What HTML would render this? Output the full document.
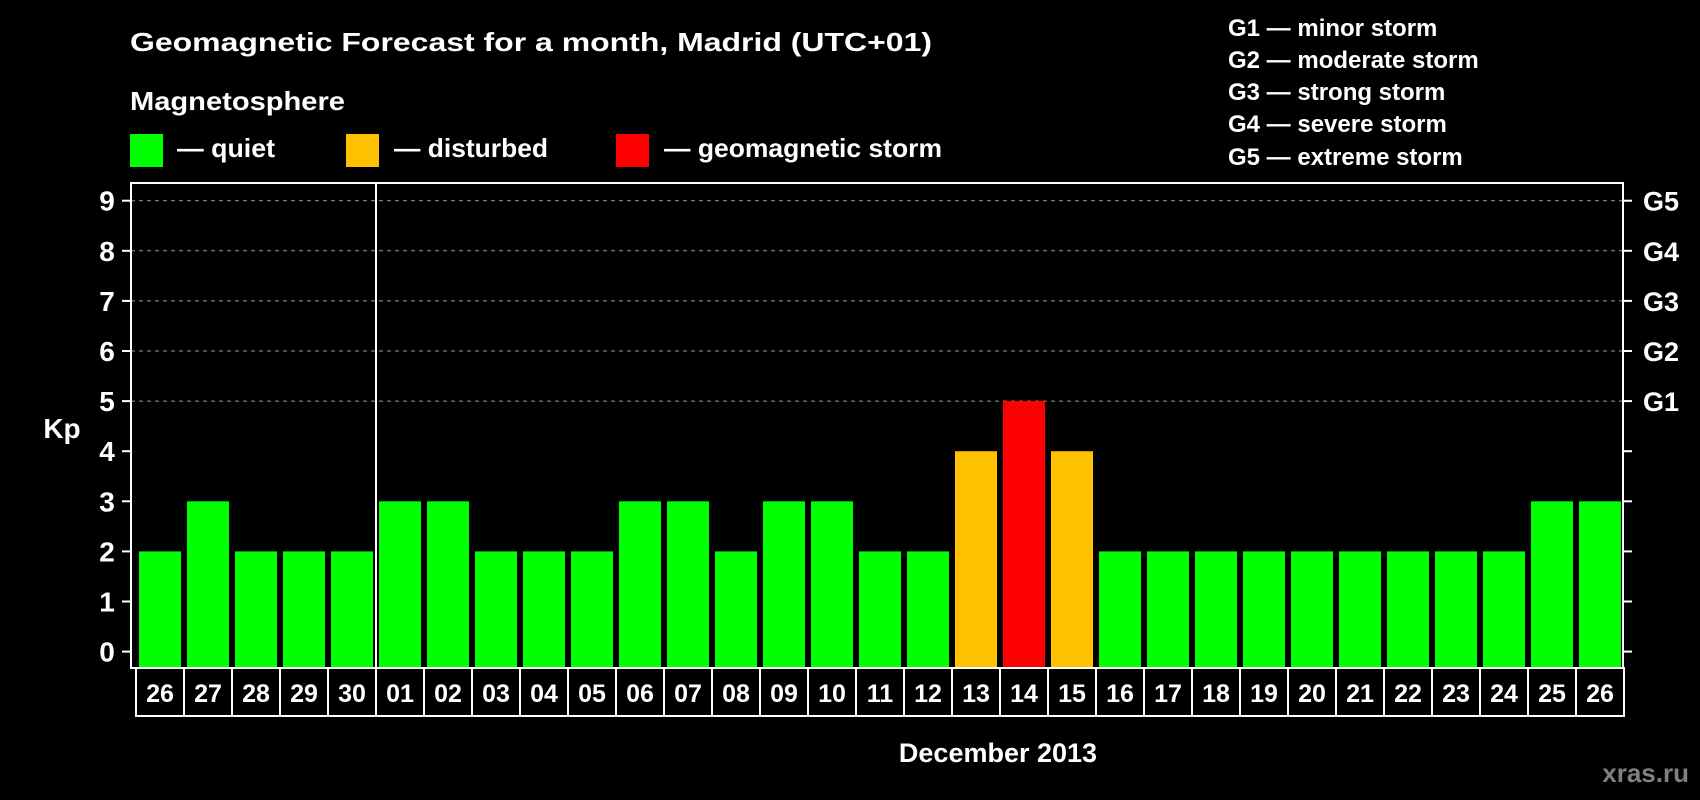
<!DOCTYPE html>
<html><head><meta charset="utf-8"><style>
html,body{margin:0;padding:0;background:#000;}
svg{display:block;font-family:"Liberation Sans",Arial,sans-serif;font-weight:bold;}
</style></head><body>
<svg id="chart" width="1700" height="800" viewBox="0 0 1700 800">
<rect x="0" y="0" width="1700" height="800" fill="#000"/>
<text x="130" y="51" font-size="26" fill="#fff" textLength="802" lengthAdjust="spacingAndGlyphs">Geomagnetic Forecast for a month, Madrid (UTC+01)</text>
<text x="130" y="110" font-size="26" fill="#fff" textLength="215" lengthAdjust="spacingAndGlyphs">Magnetosphere</text>
<rect x="130" y="134" width="33" height="33" fill="#00ff00"/>
<text x="177" y="157" font-size="26" fill="#fff" textLength="98" lengthAdjust="spacingAndGlyphs">— quiet</text>
<rect x="346" y="134" width="33" height="33" fill="#ffc000"/>
<text x="394" y="157" font-size="26" fill="#fff" textLength="154" lengthAdjust="spacingAndGlyphs">— disturbed</text>
<rect x="616" y="134" width="33" height="33" fill="#ff0000"/>
<text x="664" y="157" font-size="26" fill="#fff" textLength="278" lengthAdjust="spacingAndGlyphs">— geomagnetic storm</text>
<g font-size="24" fill="#fff">
<text x="1228" y="36">G1 — minor storm</text>
<text x="1228" y="68">G2 — moderate storm</text>
<text x="1228" y="100">G3 — strong storm</text>
<text x="1228" y="132">G4 — severe storm</text>
<text x="1228" y="165">G5 — extreme storm</text>
</g>
<text x="62" y="438" font-size="28" fill="#fff" text-anchor="middle">Kp</text>
<text x="998" y="762" font-size="27" fill="#fff" text-anchor="middle">December 2013</text>
<text x="1689" y="782" font-size="26" fill="#808080" text-anchor="end">xras.ru</text>
<g id="plot"></g>
</svg>
<script>
const dayLabels = ["26","27","28","29","30","01","02","03","04","05","06","07","08","09","10","11","12","13","14","15","16","17","18","19","20","21","22","23","24","25","26"];
const kpValues = [2,3,2,2,2,3,3,2,2,2,3,3,2,3,3,2,2,4,5,4,2,2,2,2,2,2,2,2,2,3,3];
const yTicks = [0,1,2,3,4,5,6,7,8,9];
const stormLabels = ["G1","G2","G3","G4","G5"];
const stormLevels = [5,6,7,8,9];

const NS = "http://www.w3.org/2000/svg";
const g = document.getElementById("plot");
const plotL = 131, plotR = 1623, plotT = 183, plotB = 668;
const slot0 = 136, slotW = 48;
const yScale = v => 651.6 - v * 50.1;
const xScale = i => slot0 + i * slotW;
function mk(tag, attrs) { const e = document.createElementNS(NS, tag); for (const k in attrs) e.setAttribute(k, attrs[k]); g.appendChild(e); return e; }
function colorFor(v) { return v >= 5 ? "#ff0000" : (v >= 4 ? "#ffc000" : "#00ff00"); }

// gridlines
stormLevels.forEach((lv) => {
  const l = mk("line", {x1: plotL, x2: plotR, y1: yScale(lv), y2: yScale(lv), stroke: "#9a9a9a", "stroke-width": 1, "stroke-dasharray": "4,4"});
  
  
});
// bars
kpValues.forEach((v, i) => {
  const y = yScale(v);
  const r = mk("rect", {x: xScale(i) + 3, y: y, width: 42, height: plotB - y, fill: colorFor(v)});
  
  
});
// frame
const frame = mk("rect", {x: plotL, y: plotT, width: plotR - plotL, height: plotB - plotT, fill: "none", stroke: "#fff", "stroke-width": 2});


const div = mk("line", {x1: xScale(5), x2: xScale(5), y1: plotT, y2: plotB, stroke: "#fff", "stroke-width": 2});


// y ticks
yTicks.forEach((t) => {
  const y = yScale(t);
  const tl = mk("line", {x1: plotL - 9, x2: plotL, y1: y, y2: y, stroke: "#fff", "stroke-width": 2});
  
  
  const tr = mk("line", {x1: plotR, x2: plotR + 9, y1: y, y2: y, stroke: "#fff", "stroke-width": 2});
  
  
  const tx = mk("text", {x: 107, y: y + 10, "font-size": 28, fill: "#fff", "text-anchor": "middle"});
  tx.textContent = t;
  
  
});
stormLabels.forEach((s, i) => {
  const tx = mk("text", {x: 1643, y: yScale(stormLevels[i]) + 10, "font-size": 27, fill: "#fff"});
  tx.textContent = s;
  
  
});
// date boxes
dayLabels.forEach((d, i) => {
  const r = mk("rect", {x: xScale(i), y: plotB, width: slotW, height: 48, fill: "none", stroke: "#fff", "stroke-width": 2});
  
  
  const tx = mk("text", {x: xScale(i) + slotW / 2, y: plotB + 34, "font-size": 25, fill: "#fff", "text-anchor": "middle"});
  tx.textContent = d;
  
  
});
</script>
</body></html>
